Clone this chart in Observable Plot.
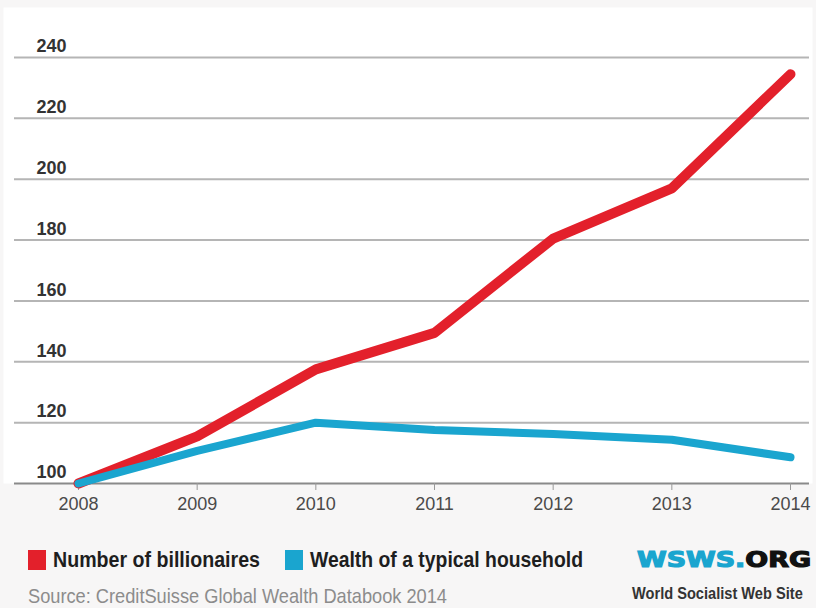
<!DOCTYPE html>
<html>
<head>
<meta charset="utf-8">
<script src="https://cdn.jsdelivr.net/npm/d3@7"></script>
<script src="https://cdn.jsdelivr.net/npm/@observablehq/plot@0.6"></script>
<style>
  html, body { margin: 0; padding: 0; background: #f7f6f6; }
  #wrap { width: 816px; height: 608px; overflow: hidden; }
  #wrap svg { display: block; }
</style>
</head>
<body>
<div id="wrap"></div>
<script>
const years = [2008, 2009, 2010, 2011, 2012, 2013, 2014];
const billionaires = [100, 115.5, 137.5, 149.5, 180.5, 197, 234.5];
const household = [100, 110.7, 120, 117.6, 116.3, 114.4, 108.6];
const yTicks = [100, 120, 140, 160, 180, 200, 220, 240];
const seriesNames = ["Number of billionaires", "Wealth of a typical household"];
const seriesColors = ["#e3202b", "#1aa5cf"];
const sourceText = "Source: CreditSuisse Global Wealth Databook 2014";
const logoParts = ["WSWS.", "ORG"];
const logoSub = "World Socialist Web Site";

const redData = years.map((y, i) => ({year: y, value: billionaires[i]}));
const blueData = years.map((y, i) => ({year: y, value: household[i]}));

const font = '"Liberation Sans", Arial, sans-serif';

const chart = Plot.plot({
  width: 816,
  height: 530,
  marginLeft: 78,
  marginRight: 26,
  marginTop: 57,
  marginBottom: 47,
  style: {background: "transparent", fontFamily: font},
  x: {domain: [2008, 2014]},
  y: {domain: [100, 240]},
  marks: [
    Plot.frame({fill: "white", stroke: null, insetLeft: -75, insetTop: -50, insetRight: -22}),
    Plot.gridY(yTicks.filter(d => d > 100), {stroke: "#b5b5b5", strokeOpacity: 1, strokeWidth: 2, insetLeft: -64, insetRight: -19}),
    Plot.ruleY([100], {stroke: "#8a8a8a", strokeWidth: 2, insetLeft: -64, insetRight: -19}),
    Plot.axisY(yTicks, {tickSize: 0, tickPadding: 42, textAnchor: "start", dy: -11, fontSize: 18, fontWeight: "bold", fill: "#333", label: null}),
    Plot.axisX(years, {tickSize: 7, tickPadding: 7, stroke: "#999", fontSize: 18, fill: "#4a4a4a", tickFormat: d => String(d), label: null}),
    Plot.line(redData, {x: "year", y: "value", stroke: seriesColors[0], strokeWidth: 10}),
    Plot.line(blueData, {x: "year", y: "value", stroke: seriesColors[1], strokeWidth: 8})
  ]
});

const wrap = document.getElementById("wrap");
wrap.appendChild(chart);

// Legend, source and logo below the chart
const legLefts = [28, 285];
const legWidths = [207, 273];
const leg = d3.create("svg")
  .attr("width", 816)
  .attr("height", 78)
  .style("font-family", font);

seriesNames.forEach((name, i) => {
  leg.append("rect")
    .attr("x", legLefts[i]).attr("y", 20)
    .attr("width", 18).attr("height", 20)
    .attr("fill", seriesColors[i]);
  leg.append("text")
    .attr("x", legLefts[i] + 25).attr("y", 37)
    .attr("font-size", 22).attr("font-weight", "bold").attr("fill", "#1e1e1e")
    .attr("textLength", legWidths[i]).attr("lengthAdjust", "spacingAndGlyphs")
    .text(name);
});

leg.append("text")
  .attr("x", 28).attr("y", 73)
  .attr("font-size", 21).attr("fill", "#8c8c8c")
  .attr("textLength", 419).attr("lengthAdjust", "spacingAndGlyphs")
  .text(sourceText);

const lt = leg.append("text")
  .attr("x", 637).attr("y", 37)
  .attr("font-family", '"DejaVu Sans", sans-serif')
  .attr("font-size", 21).attr("font-weight", "bold")
  .attr("stroke-width", 1.2)
  .attr("textLength", 174).attr("lengthAdjust", "spacingAndGlyphs");
lt.append("tspan").attr("fill", seriesColors[1]).attr("stroke", seriesColors[1]).text(logoParts[0]);
lt.append("tspan").attr("fill", "#111").attr("stroke", "#111").text(logoParts[1]);

leg.append("text")
  .attr("transform", "translate(632,69) scale(0.86,1)")
  .attr("font-size", 17).attr("font-weight", "bold").attr("fill", "#333")
  .text(logoSub);

wrap.appendChild(leg.node());
</script>
</body>
</html>
